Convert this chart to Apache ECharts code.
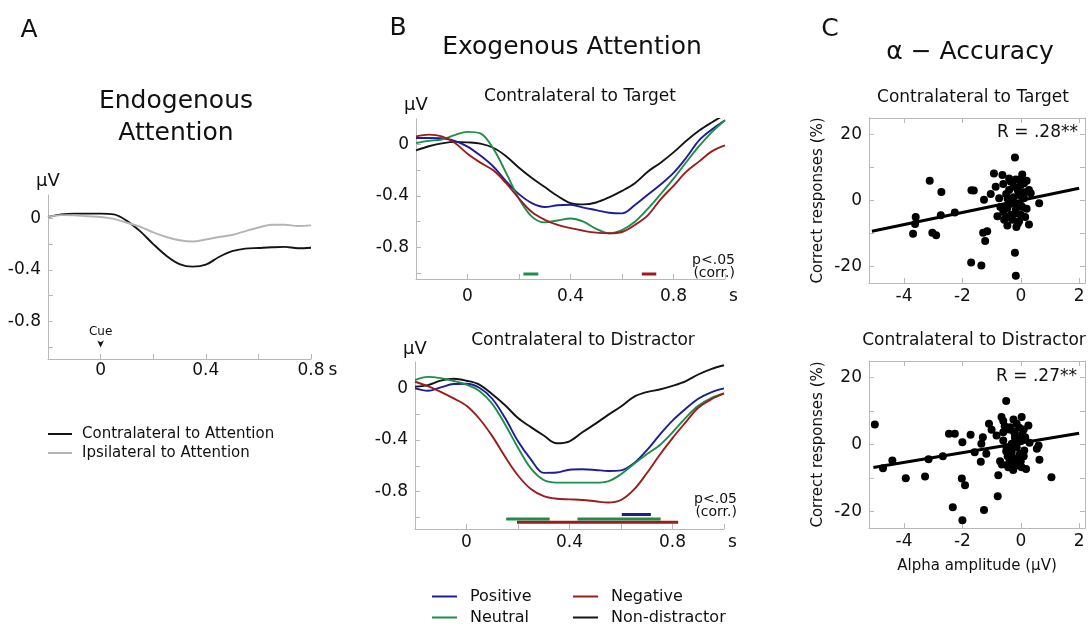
<!DOCTYPE html>
<html><head><meta charset="utf-8">
<script src="https://cdn.jsdelivr.net/npm/echarts@6/dist/echarts.min.js"></script>
<style>html,body{margin:0;padding:0;background:#fff}#c{width:1091px;height:628px}</style>
</head><body><div id="c"></div><script>
// ---------- DATA ----------
// Panel A (endogenous attention)
const tA = [-0.2,-0.15,-0.1,-0.05,0,0.05,0.1,0.15,0.2,0.25,0.3,0.35,0.4,0.45,0.5,0.55,0.6,0.65,0.7,0.75,0.8];
const aContra = [0.01,0.03,0.036,0.036,0.036,0.03,-0.02,-0.1,-0.2,-0.29,-0.355,-0.375,-0.36,-0.3,-0.255,-0.235,-0.23,-0.225,-0.222,-0.232,-0.228];
const aIpsi   = [0.01,0.024,0.022,0.015,0.01,-0.005,-0.035,-0.065,-0.11,-0.145,-0.17,-0.18,-0.165,-0.145,-0.13,-0.1,-0.072,-0.05,-0.05,-0.06,-0.055];
// Panel B (exogenous attention)
const tB = [-0.2,-0.15,-0.1,-0.05,0,0.05,0.1,0.15,0.2,0.25,0.3,0.35,0.4,0.45,0.5,0.55,0.6,0.65,0.7,0.75,0.8,0.85,0.9,0.95,1.0];
const btPos = [0.052,0.052,0.05,0.03,-0.015,-0.085,-0.17,-0.285,-0.385,-0.455,-0.485,-0.472,-0.468,-0.49,-0.51,-0.53,-0.535,-0.47,-0.39,-0.31,-0.22,-0.1,0.035,0.12,0.19];
const btNeu = [0.013,0.03,0.04,0.075,0.1,0.088,-0.03,-0.22,-0.42,-0.56,-0.605,-0.59,-0.575,-0.6,-0.655,-0.69,-0.665,-0.6,-0.5,-0.385,-0.265,-0.135,-0.01,0.1,0.19];
const btNeg = [0.065,0.078,0.065,0.015,-0.07,-0.14,-0.2,-0.3,-0.42,-0.525,-0.585,-0.625,-0.65,-0.67,-0.685,-0.69,-0.68,-0.625,-0.55,-0.425,-0.32,-0.21,-0.13,-0.05,-0.005];
const btNon = [-0.044,-0.012,0.01,0.022,0.018,0.008,-0.024,-0.09,-0.18,-0.26,-0.33,-0.4,-0.455,-0.465,-0.45,-0.41,-0.36,-0.3,-0.21,-0.14,-0.06,0.03,0.11,0.175,0.235];
const bbPos = [0,-0.018,0.008,0.034,0.036,0.005,-0.08,-0.23,-0.41,-0.55,-0.655,-0.652,-0.63,-0.627,-0.632,-0.64,-0.635,-0.58,-0.48,-0.36,-0.25,-0.16,-0.08,-0.03,0];
const bbNeu = [0.065,0.09,0.08,0.058,0.03,-0.02,-0.12,-0.28,-0.46,-0.62,-0.71,-0.73,-0.73,-0.73,-0.73,-0.72,-0.665,-0.585,-0.51,-0.44,-0.34,-0.23,-0.135,-0.075,-0.039];
const bbNeg = [0.052,0.018,-0.026,-0.077,-0.135,-0.235,-0.37,-0.53,-0.675,-0.78,-0.835,-0.855,-0.86,-0.865,-0.875,-0.885,-0.865,-0.785,-0.658,-0.516,-0.385,-0.265,-0.15,-0.085,-0.039];
const bbNon = [0.013,0.026,0.06,0.075,0.06,0.03,-0.045,-0.13,-0.23,-0.3,-0.365,-0.425,-0.41,-0.34,-0.275,-0.205,-0.14,-0.065,-0.028,-0.008,0.02,0.055,0.108,0.15,0.18];
// significance intervals (s) and their level (µV)
const sigTop = {Neutral:[0.217,0.275], Negative:[0.677,0.733]};
const sigTopLevel = {Neutral:-1.008, Negative:-1.008};
const sigBot = {Neutral1:[0.154,0.323], Neutral2:[0.431,0.754], Positive:[0.603,0.716], Negative:[0.196,0.822]};
const sigBotLevel = {Neutral1:-1.012, Neutral2:-1.012, Positive:-0.978, Negative:-1.037};
// Panel C (alpha amplitude vs accuracy)
const ctX = [-3.12,-2.72,-3.69,-3.6,-3.62,-3.03,-2.9,-2.74,-2.26,-1.69,-1.61,-1.7,-1.35,-0.17,
  -0.2,-0.92,-0.63,0.05,-0.4,-0.17,-0.86,-1.03,0.28,0.34,-1.26,-0.74,0.63,-0.4,-0.23,0,-0.06,-0.29,-0.46,-0.17,
  0,-0.8,-0.57,-0.29,-0.46,-0.06,0.28,-1.15,-1.29,-1.22,-0.2,0.11,-0.34,-0.13,-0.34,0.11,
  -0.1,-0.5,0.05,-0.25,-0.6,0.15,-0.15,-0.45,0.2,
  -0.35,0.0,-0.2,0.1,-0.6,-0.45,0.2,-0.1,-0.7,0.0];
const ctY = [6.0,2.6,-10.1,-5.0,-7.1,-9.8,-10.5,-4.5,-3.6,3.1,3.0,-18.8,-19.7,-22.8,
  13.0,8.2,7.7,7.9,6.7,6.4,4.2,2.0,3.2,2.2,0.2,0.7,-0.8,3.2,4.2,4.7,1.7,-0.3,-2.3,-2.8,
  -4.3,-4.8,-5.8,-5.8,-7.6,-6.3,-7.3,-9.3,-9.8,-12.3,-15.8,5.2,5.7,-1.3,-4.3,0.7,
  3.0,2.0,-2.0,1.0,-3.5,-5.0,-8.0,0.5,6.0,
  -1.0,-1.5,-4.0,2.5,5.0,-5.0,-2.5,-7.0,-2.0,6.5];
const cbX = [-5.0,-4.72,-4.4,-3.94,-3.28,-3.16,-2.67,-2.46,-2.26,-2.0,-1.72,-1.3,-1.35,-1.58,-1.18,-1.37,
  -0.5,-0.66,-0.6,0.03,-1.09,-1.0,0.26,-0.83,-0.37,-0.14,-0.2,0.15,-0.6,-0.31,0.61,0.55,-0.31,-0.03,-0.71,0.64,
  -0.31,-0.43,0.03,-0.26,0.18,-0.77,1.05,-2.02,-1.91,-0.79,-2.33,-1.26,-2.0,-0.49,-0.14,-0.6,
  -0.4,-0.2,0.0,-0.35,-0.1,-0.45,0.1,-0.25,-0.15,0.0,-0.3,0.12,-0.05,
  -0.55,-0.25,0.05,-0.4,-0.2,-0.65,-0.1,0.3,-0.5,0.1];
const cbY = [6.0,-7.1,-4.8,-10.1,-9.6,-4.4,-3.5,3.2,3.2,0.7,2.9,2.2,0.2,-2.3,-2.8,-5.2,
  13.0,8.2,7.0,8.2,6.2,4.4,5.7,2.7,5.2,6.2,3.2,2.2,1.2,0.2,-0.3,-1.3,-2.3,-2.8,-5.0,-4.6,
  -5.3,-6.8,-6.8,-7.6,-7.3,-9.2,-9.8,-10.2,-12.2,-15.5,-18.8,-19.6,-22.7,-0.8,-0.8,3.7,
  4.5,2.0,1.0,-1.5,-4.0,-3.5,4.5,7.5,-6.0,-5.0,-4.2,-1.8,5.0,
  5.5,4.0,3.0,-5.5,-6.5,-6.0,1.5,0.5,-2.0,-3.5];
const ctFitX = [-5.1, 2.0], ctFitY = [-9.3, 3.7];
const cbFitX = [-5.05, 2.0], cbFitY = [-6.9, 3.35];
// tick values
const tickAX = [0,0.2,0.4,0.6,0.8], labAX = [0,0.4,0.8];
const tickBX = [0,0.2,0.4,0.6,0.8,1.0], labBX = [0,0.4,0.8];
const tickY = [0,-0.2,-0.4,-0.6,-0.8,-1.0], labY = [0,-0.4,-0.8];
const tickCX = [-4,-2,0,2], tickCY = [-20,-10,0,10,20], labCY = [-20,0,20];

// ---------- STYLE ----------
const FONT = 'DejaVu Sans', AX = '#b8b8b8', TXT = '#111';
const COL = {Positive:'#1d1d97', Neutral:'#1f8d4d', Negative:'#9b1c1c', 'Non-distractor':'#141414'};
const zip = (xs, ys) => xs.map((x, i) => [x, ys[i]]);
const fmt = v => String(Math.round(v * 10) / 10);

function xAx(grid, min, max, ticks, labs, margin, extra) {
  return Object.assign({
    type:'value', gridIndex:grid, min, max, splitLine:{show:false},
    axisLine:{show:true, onZero:false, lineStyle:{color:AX, width:1}},
    axisTick:{show:true, inside:true, length:5, lineStyle:{color:AX}, customValues:ticks},
    axisLabel:{show:true, customValues:labs, formatter:fmt, margin, color:TXT, fontSize:17, fontFamily:FONT}
  }, extra || {});
}
function yAx(grid, min, max, ticks, labs, extra) {
  return Object.assign({
    type:'value', gridIndex:grid, min, max, splitLine:{show:false},
    axisLine:{show:true, onZero:false, lineStyle:{color:AX, width:1}},
    axisTick:{show:true, inside:true, length:5, lineStyle:{color:AX}, customValues:ticks},
    axisLabel:{show:true, customValues:labs, formatter:fmt, margin:7, color:TXT, fontSize:17, fontFamily:FONT}
  }, extra || {});
}
const uv = gap => ({name:'μV', nameLocation:'end', nameGap:gap, nameTextStyle:{fontSize:18, color:TXT, fontFamily:FONT}});
const sName = (gap, pad) => ({name:'s', nameLocation:'end', nameGap:gap,
  nameTextStyle:{fontSize:17, color:TXT, fontFamily:FONT, verticalAlign:'top', padding:[pad,0,0,0]}});
function mirrorX(grid, min, max, ticks) {
  return {type:'value', gridIndex:grid, position:'top', min, max, splitLine:{show:false},
    axisLine:{show:true, onZero:false, lineStyle:{color:AX}}, axisLabel:{show:false},
    axisTick:{show:true, inside:true, length:5, lineStyle:{color:AX}, customValues:ticks}};
}
function mirrorY(grid, min, max, ticks) {
  return {type:'value', gridIndex:grid, position:'right', min, max, splitLine:{show:false},
    axisLine:{show:true, onZero:false, lineStyle:{color:AX}}, axisLabel:{show:false},
    axisTick:{show:true, inside:true, length:5, lineStyle:{color:AX}, customValues:ticks}};
}
function txt(text, x, y, size, align) {
  return {type:'text', x, y, silent:true, style:{text, fontSize:size, fontFamily:FONT, fill:TXT,
    align:align || 'center', verticalAlign:'middle'}};
}
const line = (name, xi, data, color) => ({name, type:'line', xAxisIndex:xi, yAxisIndex:xi, data,
  showSymbol:false, smooth:0.35, lineStyle:{width:1.9, color}, itemStyle:{color}, z:3});
const bar = (name, xi, span, lvl, color) => ({name:'sig-' + name, type:'line', xAxisIndex:xi, yAxisIndex:xi,
  data:[[span[0], lvl],[span[1], lvl]], showSymbol:false, lineStyle:{width:3, color}, z:4});

const xMinC = -5.2, xMaxC = 2.2, yMinC = -25, yMaxC = 25;
const dot = {color:'#000', opacity:1};

const option = {
  animation:false,
  backgroundColor:'#fff',
  textStyle:{fontFamily:FONT},
  grid:[
    {left:48, top:195, width:263, height:164, outerBoundsMode:'none'},
    {left:416, top:119, width:309, height:160, outerBoundsMode:'none'},
    {left:415, top:362, width:309, height:167, outerBoundsMode:'none'},
    {left:869, top:118, width:216, height:165, outerBoundsMode:'none'},
    {left:869, top:361, width:216, height:167, outerBoundsMode:'none'}
  ],
  xAxis:[
    xAx(0, -0.2, 0.8, tickAX, labAX, 3, sName(14, 3)),
    xAx(1, -0.2, 1.0, tickBX, labBX, 9, sName(4, 9)),
    xAx(2, -0.2, 1.0, tickBX, labBX, 5, sName(4, 5)),
    xAx(3, xMinC, xMaxC, tickCX, tickCX, 5),
    mirrorX(3, xMinC, xMaxC, tickCX),
    xAx(4, xMinC, xMaxC, tickCX, tickCX, 5, {name:'Alpha amplitude (μV)', nameLocation:'middle', nameGap:31,
      nameTextStyle:{fontSize:15, color:TXT, fontFamily:FONT}}),
    mirrorX(4, xMinC, xMaxC, tickCX)
  ],
  yAxis:[
    yAx(0, -1.09, 0.18, tickY, labY, uv(5)),
    yAx(1, -1.046, 0.2, tickY, labY, uv(5)),
    yAx(2, -1.09, 0.205, tickY, labY, uv(4)),
    yAx(3, yMinC, yMaxC, tickCY, labCY, {name:'Correct responses (%)', nameLocation:'middle', nameGap:43,
      nameTextStyle:{fontSize:15, color:TXT, fontFamily:FONT}}),
    mirrorY(3, yMinC, yMaxC, tickCY),
    yAx(4, yMinC, yMaxC, tickCY, labCY, {name:'Correct responses (%)', nameLocation:'middle', nameGap:43,
      nameTextStyle:{fontSize:15, color:TXT, fontFamily:FONT}}),
    mirrorY(4, yMinC, yMaxC, tickCY)
  ],
  legend:[
    {left:48, top:426, orient:'vertical', padding:0, icon:'rect', itemWidth:24, itemHeight:2, itemGap:3,
     selectedMode:false, data:['Contralateral to Attention','Ipsilateral to Attention'],
     textStyle:{fontSize:15, lineHeight:16, color:TXT, fontFamily:FONT, padding:[0,0,0,5]}},
    {left:432, top:588, orient:'vertical', padding:0, icon:'rect', itemWidth:25, itemHeight:2, itemGap:4,
     selectedMode:false, data:['Positive','Neutral'],
     textStyle:{fontSize:16, lineHeight:17, color:TXT, fontFamily:FONT, padding:[0,0,0,8]}},
    {left:573, top:588, orient:'vertical', padding:0, icon:'rect', itemWidth:25, itemHeight:2, itemGap:4,
     selectedMode:false, data:['Negative','Non-distractor'],
     textStyle:{fontSize:16, lineHeight:17, color:TXT, fontFamily:FONT, padding:[0,0,0,8]}}
  ],
  graphic:[
    txt('A', 29, 30, 25), txt('B', 398, 28, 25), txt('C', 830, 29, 25),
    txt('Endogenous', 176, 101, 25), txt('Attention', 176, 133, 25),
    txt('Exogenous Attention', 572, 47, 25),
    txt('α − Accuracy', 970, 52, 25),
    txt('Contralateral to Target', 580, 97, 17),
    txt('Contralateral to Distractor', 583, 341, 17),
    txt('Contralateral to Target', 973, 98, 17),
    txt('Contralateral to Distractor', 974, 341, 17),
    txt('p<.05', 735, 260, 14, 'right'), txt('(corr.)', 735, 273, 14, 'right'),
    txt('p<.05', 737, 499, 14, 'right'), txt('(corr.)', 737, 512, 14, 'right'),
    txt('R = .28**', 1078, 133, 17, 'right'), txt('R = .27**', 1077, 377, 17, 'right')
  ],
  series:[
    Object.assign(line('Contralateral to Attention', 0, zip(tA, aContra), '#141414'), {
      markPoint:{symbol:'arrow', symbolSize:[5,7], symbolRotate:180, itemStyle:{color:'#141414'},
        label:{show:true, position:'top', distance:3, formatter:'Cue', fontSize:12, color:TXT, fontFamily:FONT},
        data:[{coord:[0, -1.0]}]}
    }),
    line('Ipsilateral to Attention', 0, zip(tA, aIpsi), '#b4b4b4'),
    line('Non-distractor', 1, zip(tB, btNon), COL['Non-distractor']),
    line('Positive', 1, zip(tB, btPos), COL.Positive),
    line('Neutral', 1, zip(tB, btNeu), COL.Neutral),
    line('Negative', 1, zip(tB, btNeg), COL.Negative),
    bar('t-neu', 1, sigTop.Neutral, sigTopLevel.Neutral, COL.Neutral),
    bar('t-neg', 1, sigTop.Negative, sigTopLevel.Negative, COL.Negative),
    line('Non-distractor', 2, zip(tB, bbNon), COL['Non-distractor']),
    line('Positive', 2, zip(tB, bbPos), COL.Positive),
    line('Neutral', 2, zip(tB, bbNeu), COL.Neutral),
    line('Negative', 2, zip(tB, bbNeg), COL.Negative),
    bar('b-neu1', 2, sigBot.Neutral1, sigBotLevel.Neutral1, COL.Neutral),
    bar('b-neu2', 2, sigBot.Neutral2, sigBotLevel.Neutral2, COL.Neutral),
    bar('b-pos', 2, sigBot.Positive, sigBotLevel.Positive, COL.Positive),
    bar('b-neg', 2, sigBot.Negative, sigBotLevel.Negative, COL.Negative),
    {name:'C target', type:'scatter', xAxisIndex:3, yAxisIndex:3, data:zip(ctX, ctY), symbolSize:8, itemStyle:dot},
    {name:'C target fit', type:'line', xAxisIndex:3, yAxisIndex:3, data:zip(ctFitX, ctFitY), showSymbol:false,
     lineStyle:{width:3, color:'#000'}, z:4},
    {name:'C distractor', type:'scatter', xAxisIndex:5, yAxisIndex:5, data:zip(cbX, cbY), symbolSize:8, itemStyle:dot},
    {name:'C distractor fit', type:'line', xAxisIndex:5, yAxisIndex:5, data:zip(cbFitX, cbFitY), showSymbol:false,
     lineStyle:{width:3, color:'#000'}, z:4}
  ]
};
const chart = echarts.init(document.getElementById('c'), null, {renderer:'canvas'});
chart.setOption(option);
</script></body></html>
